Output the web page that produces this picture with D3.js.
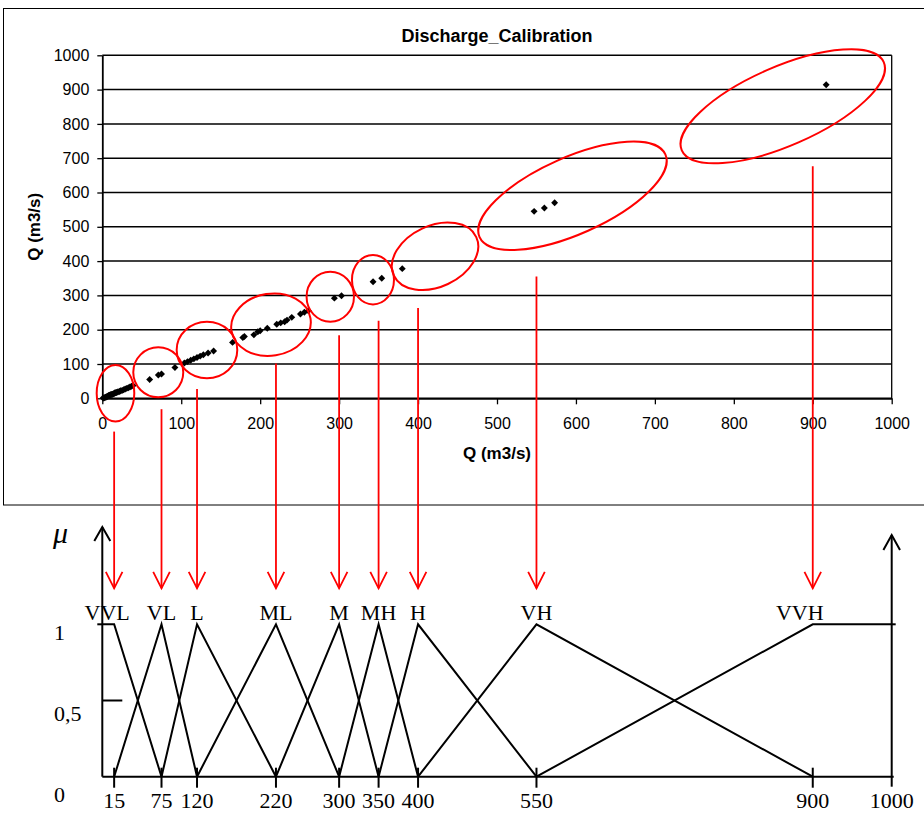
<!DOCTYPE html>
<html>
<head>
<meta charset="utf-8">
<script src="https://cdn.jsdelivr.net/npm/d3@7/dist/d3.min.js"></script>
<style>
  html, body { margin: 0; padding: 0; background: #fff; }
  svg { display: block; }
</style>
</head>
<body>
<svg id="fig" width="924" height="813"></svg>
<script>
// ---- Calibration scatter: observed vs simulated discharge (m3/s) ----
const qObserved = [
  1, 2, 3, 4, 5, 6, 7, 8, 9, 10, 11, 12, 13, 14, 15, 16, 17, 18, 19, 20,
  22, 23, 25, 27, 29, 31, 33, 35, 37, 39,
  60, 71, 75, 92,
  104, 108, 112, 116, 120, 124, 128, 134, 141,
  165, 178, 180, 192, 197, 200, 209, 221, 226, 231, 234, 240, 251, 256, 261,
  294, 303, 343, 354, 380, 547, 560, 573, 917
];
const qSimulated = [
  1, 1, 2, 3, 4, 5, 6, 8, 9, 10, 11, 11, 12, 13, 14, 16, 16, 17, 18, 19,
  20, 22, 23, 25, 27, 29, 31, 33, 35, 37,
  55, 68, 71, 90,
  103, 107, 111, 115, 119, 123, 127, 132, 138,
  163, 177, 180, 185, 194, 197, 204, 216, 220, 223, 228, 236, 246, 251, 255,
  292, 299, 340, 350, 378, 545, 555, 570, 914
];
const qTicks = [0, 100, 200, 300, 400, 500, 600, 700, 800, 900, 1000];

// ---- Fuzzy partition of discharge ----
const terms = ["VVL", "VL", "L", "ML", "M", "MH", "H", "VH", "VVH"];
const termCores = [15, 75, 120, 220, 300, 350, 400, 550, 900];
const termShapes = [
  [[0, 1], [15, 1], [75, 0]],
  [[15, 0], [75, 1], [120, 0]],
  [[75, 0], [120, 1], [220, 0]],
  [[120, 0], [220, 1], [300, 0]],
  [[220, 0], [300, 1], [350, 0]],
  [[300, 0], [350, 1], [400, 0]],
  [[350, 0], [400, 1], [550, 0]],
  [[400, 0], [550, 1], [900, 0]],
  [[550, 0], [900, 1], [1000, 1]]
];
const partitionTicks = [15, 75, 120, 220, 300, 350, 400, 550, 900, 1000];
const muTicks = [0, 0.5, 1];
const muTickLabels = ["0", "0,5", "1"];

// Ring around each group of points (centre in m3/s, radii in px)
const rings = [
  { cx: 16.7,  cy: 14.6,  rx: 18.8,  ry: 28.3, rot: 0,     gap: 10 },
  { cx: 70.9,  cy: 75.8,  rx: 25,    ry: 25,   rot: 0,     gap: 12 },
  { cx: 132.6, cy: 140.8, rx: 30.3,  ry: 28.3, rot: 0,     gap: 12 },
  { cx: 213.7, cy: 214.6, rx: 40,    ry: 31,   rot: -9,    gap: 8 },
  { cx: 288.8, cy: 296.2, rx: 23.7,  ry: 25,   rot: 0,     gap: 15 },
  { cx: 342.9, cy: 345.8, rx: 21,    ry: 24.7, rot: 0,     gap: 17 },
  { cx: 421.5, cy: 414,   rx: 45.5,  ry: 30.6, rot: -25,   gap: 18 },
  { cx: 595.6, cy: 590.4, rx: 101.7, ry: 38.3, rot: -24,   gap: 29 },
  { cx: 862,   cy: 851.3, rx: 110.2, ry: 39.4, rot: -23.6, gap: 30 }
];

const svg = d3.select("#fig");
const SANS = "'Liberation Sans', Arial, sans-serif";
const SERIF = "'Liberation Serif', 'Times New Roman', serif";
const RED = "#ff0000";

svg.append("rect").attr("width", 924).attr("height", 813).attr("fill", "#fff");

// chart frame
svg.append("rect")
  .attr("x", 3.5).attr("y", 8.5).attr("width", 940).attr("height", 496.5)
  .attr("fill", "none").attr("stroke", "#000").attr("stroke-width", 1);

// ---------- upper panel: scatter ----------
const x = d3.scaleLinear().domain([0, 1000]).range([102.3, 891.7]);
const y = d3.scaleLinear().domain([0, 1000]).range([398.3, 55.3]);

const scatterG = svg.append("g");

// horizontal grid
scatterG.append("g").selectAll("line").data(qTicks).join("line")
  .attr("x1", x(0)).attr("x2", x(1000))
  .attr("y1", d => y(d)).attr("y2", d => y(d))
  .attr("stroke", "#000").attr("stroke-width", 1.5);

// right border of plot area
scatterG.append("line")
  .attr("x1", x(1000)).attr("x2", x(1000))
  .attr("y1", y(1000)).attr("y2", y(0))
  .attr("stroke", "#000").attr("stroke-width", 1.3);

const fmt = d3.format("d");
const yAxis = scatterG.append("g")
  .attr("transform", `translate(${x(0)},0)`)
  .call(d3.axisLeft(y).tickValues(qTicks).tickFormat(fmt).tickSize(5).tickPadding(8).tickSizeOuter(0));
const xAxis = scatterG.append("g")
  .attr("transform", `translate(0,${y(0)})`)
  .call(d3.axisBottom(x).tickValues(qTicks).tickFormat(fmt).tickSize(6).tickPadding(13).tickSizeOuter(0));

[yAxis, xAxis].forEach(a => {
  a.select(".domain").attr("stroke", "#000").attr("stroke-width", 1.8);
  a.selectAll(".tick line").attr("stroke", "#000").attr("stroke-width", 1.3);
  a.selectAll(".tick text")
    .attr("font-family", SANS).attr("font-size", 16).attr("fill", "#000");
});

scatterG.append("text")
  .attr("x", (x(0) + x(1000)) / 2).attr("y", 41.5)
  .attr("text-anchor", "middle")
  .attr("font-family", SANS).attr("font-weight", "bold").attr("font-size", 18)
  .text("Discharge_Calibration");

scatterG.append("text")
  .attr("x", (x(0) + x(1000)) / 2).attr("y", 458.5)
  .attr("text-anchor", "middle")
  .attr("font-family", SANS).attr("font-weight", "bold").attr("font-size", 17)
  .text("Q (m3/s)");

scatterG.append("text")
  .attr("transform", `translate(39.5,${(y(0) + y(1000)) / 2}) rotate(-90)`)
  .attr("text-anchor", "middle")
  .attr("font-family", SANS).attr("font-weight", "bold").attr("font-size", 17)
  .text("Q (m3/s)");

const pts = qObserved.map((o, i) => ({ o, s: qSimulated[i] }));
scatterG.append("g").selectAll("path").data(pts).join("path")
  .attr("d", d3.symbol(d3.symbolSquare, 24))
  .attr("transform", d => `translate(${x(d.o)},${y(d.s)}) rotate(45)`)
  .attr("fill", "#000");

// rings
scatterG.append("g").selectAll("ellipse").data(rings).join("ellipse")
  .attr("transform", d => `translate(${x(d.cx)},${y(d.cy)}) rotate(${d.rot})`)
  .attr("rx", d => d.rx).attr("ry", d => d.ry)
  .attr("fill", "none").attr("stroke", RED).attr("stroke-width", 2);

// ---------- lower panel: membership functions ----------
const fx = d3.scaleLinear().domain([0, 1000]).range([102.3, 891.7]);
const mu = d3.scaleLinear().domain([0, 1]).range([776.7, 624.3]);
const muLabelY = d3.scaleLinear().domain([0, 1]).range([801.5, 640]);

const mfG = svg.append("g");

// lowest point of a ring below a given x position
function ringBottom(r, px) {
  const cx = x(r.cx), cy = y(r.cy), phi = r.rot * Math.PI / 180;
  let best = -Infinity, near = Infinity, nearY = cy + r.ry;
  for (let i = 0; i < 2000; i++) {
    const t = i / 2000 * 2 * Math.PI;
    const ex = cx + r.rx * Math.cos(t) * Math.cos(phi) - r.ry * Math.sin(t) * Math.sin(phi);
    const ey = cy + r.rx * Math.cos(t) * Math.sin(phi) + r.ry * Math.sin(t) * Math.cos(phi);
    if (Math.abs(ex - px) < 1 && ey > best) best = ey;
    if (Math.abs(ex - px) < near) { near = Math.abs(ex - px); nearY = ey; }
  }
  return best > -Infinity ? best : nearY;
}

// red arrows from each ring to its fuzzy term
const tipY = 588.3;
const arrows = mfG.append("g").attr("stroke", RED).attr("stroke-width", 1.8).attr("fill", "none");
termCores.forEach((c, i) => {
  const ax = fx(c);
  const y0 = ringBottom(rings[i], ax) + rings[i].gap;
  arrows.append("line").attr("x1", ax).attr("x2", ax).attr("y1", y0).attr("y2", tipY);
  arrows.append("polyline")
    .attr("points", `${ax - 8.3},${tipY - 16.5} ${ax},${tipY} ${ax + 8.3},${tipY - 16.5}`);
});

const ink = mfG.append("g").attr("stroke", "#000").attr("stroke-width", 2).attr("fill", "none");

// axes
ink.append("line").attr("x1", fx(0)).attr("x2", fx(0)).attr("y1", mu(0)).attr("y2", 527);
ink.append("polyline").attr("points", `${fx(0) - 8},${541} ${fx(0)},${527} ${fx(0) + 8},${541}`);
ink.append("line").attr("x1", fx(1000)).attr("x2", fx(1000)).attr("y1", mu(0) + 10).attr("y2", 535);
ink.append("polyline").attr("points", `${fx(1000) - 8.3},${550} ${fx(1000)},${535} ${fx(1000) + 8.3},${550}`);
ink.append("line").attr("x1", fx(0)).attr("x2", fx(1000) + 2).attr("y1", mu(0)).attr("y2", mu(0));

// ticks
ink.selectAll(".xt").data(partitionTicks.filter(v => v < 1000)).join("line")
  .attr("x1", d => fx(d)).attr("x2", d => fx(d))
  .attr("y1", mu(0) - 9).attr("y2", mu(0) + 11);
ink.append("line").attr("x1", fx(0)).attr("x2", fx(0) + 20).attr("y1", mu(0.5)).attr("y2", mu(0.5));

// membership functions
const line = d3.line().x(d => fx(d[0])).y(d => mu(d[1]));
ink.selectAll(".mf").data(termShapes).join("path").attr("d", line);
ink.append("line").attr("x1", fx(0) - 5).attr("x2", fx(0)).attr("y1", mu(1)).attr("y2", mu(1));
ink.append("line").attr("x1", fx(1000)).attr("x2", fx(1000) + 4).attr("y1", mu(1)).attr("y2", mu(1));

// texts
const txt = mfG.append("g").attr("font-family", SERIF).attr("fill", "#000");
txt.selectAll(".term").data(terms).join("text")
  .attr("x", (d, i) => fx(termCores[i]))
  .attr("dx", (d, i) => (i === 0 ? -7 : i === terms.length - 1 ? -13 : 0))
  .attr("y", 620)
  .attr("text-anchor", "middle").attr("font-size", 22)
  .text(d => d);
txt.selectAll(".xl").data(partitionTicks).join("text")
  .attr("x", d => fx(d)).attr("y", 807.5)
  .attr("text-anchor", "middle").attr("font-size", 22)
  .text(d => d);
txt.selectAll(".yl").data(muTicks).join("text")
  .attr("x", 54).attr("y", d => muLabelY(d))
  .attr("font-size", 22)
  .text((d, i) => muTickLabels[i]);
txt.append("text")
  .attr("x", 53).attr("y", 543)
  .attr("font-size", 30).attr("font-style", "italic")
  .text("μ");
</script>
</body>
</html>
